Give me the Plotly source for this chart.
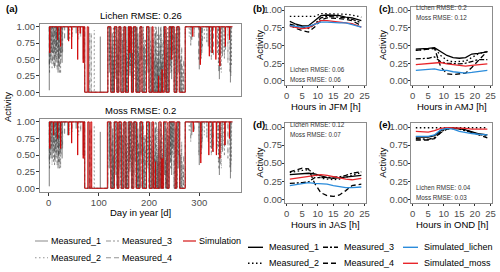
import plotly.graph_objects as go

W, H = 500, 272
FONT = "Liberation Sans, Arial, sans-serif"

# ---------------- panel (a): daily activity over the year ----------------
first_day, last_day = 1, 366

# periods in which the measured activity is high (shared by all sensors)
meas_on_start = [1, 118, 131, 140, 150, 159, 169, 182, 195, 229, 240, 256, 272]
meas_on_end = [72, 124, 136, 144, 153, 165, 174, 186, 200, 233, 250, 261, 366]

m1_day = [1.5, 5, 9, 13, 16, 19, 23, 27, 38, 55, 69, 80, 103, 121, 127, 129, 134, 138, 142, 147,
          152, 156, 162, 167, 172, 176, 178, 184, 190, 198, 204, 208, 212, 216, 219, 222, 225, 228,
          231, 235, 238, 242, 245, 248, 253, 258, 263, 285, 300, 305, 318, 325, 340, 346, 352, 362]
m1_val = [0.03, 0.45, 0.6, 0.4, 0.7, 0.3, 0.55, 0.45, 0.8, 0.9, 0.5, 1.0, 0.85, 0.3, 0.9, 0.5, 0.2,
          0.8, 0.3, 0.8, 0.4, 1.0, 0.25, 0.6, 0.4, 1.0, 0.9, 0.5, 0.7, 0.3, 1.0, 0.6, 0.9, 0.5, 1.0,
          0.7, 0.45, 1.0, 0.2, 0.9, 0.8, 0.4, 0.2, 0.6, 0.9, 0.3, 0.5, 0.8, 0.35, 0.6, 0.7, 0.6, 0.2,
          0.55, 0.65, 0.15]
m2_day = [3, 7, 11, 15, 18, 21, 25, 42, 60, 71, 91, 121, 126, 129, 133, 137, 143, 146, 151, 155,
          157, 162, 166, 168, 171, 177, 180, 188, 192, 197, 203, 206, 210, 214, 217, 221, 224, 227,
          232, 237, 241, 245, 249, 252, 257, 264, 268, 280, 302, 310, 322, 338, 344, 349, 364]
m2_val = [0.5, 0.35, 0.55, 0.45, 0.6, 0.35, 0.5, 0.8, 0.8, 0.6, 0.95, 0.4, 0.6, 1.0, 0.3, 0.9, 0.5,
          0.9, 0.3, 0.8, 0.7, 0.3, 0.9, 0.9, 0.2, 0.8, 0.5, 0.9, 0.6, 0.4, 0.8, 0.4, 1.0, 0.7, 0.9,
          0.4, 0.9, 0.6, 0.5, 1.0, 0.6, 0.3, 0.4, 0.7, 0.5, 0.6, 0.3, 0.85, 0.45, 0.8, 0.6, 0.4, 0.3,
          0.6, 0.4]
m3_day = [2, 6, 10, 14, 17, 20, 24, 28, 47, 70, 85, 122, 126, 130, 135, 139, 142, 148, 152, 155,
          161, 163, 167, 173, 176, 180, 185, 189, 193, 199, 202, 207, 211, 215, 218, 223, 226, 230,
          235, 239, 243, 247, 251, 254, 259, 262, 266, 283, 304, 315, 324, 336, 342, 350, 361]
m3_val = [0.3, 0.6, 0.4, 0.55, 0.35, 0.5, 0.3, 0.6, 0.85, 0.45, 0.9, 0.5, 0.7, 0.9, 0.4, 1.0, 0.6,
          1.0, 0.6, 0.6, 0.4, 0.4, 1.0, 0.5, 1.0, 0.6, 0.3, 1.0, 0.8, 0.5, 0.6, 1.0, 0.5, 1.0, 0.6,
          1.0, 0.8, 0.4, 0.6, 0.9, 0.5, 0.5, 0.9, 1.0, 0.5, 0.8, 0.4, 0.7, 0.5, 0.75, 0.5, 0.6, 0.35,
          0.5, 0.3]
m4_day = [1.5, 4, 8, 12, 16, 20, 22, 26, 32, 64, 82, 119, 123, 128, 132, 138, 141, 145, 149, 153,
          156, 161, 164, 168, 170, 175, 179, 183, 187, 191, 196, 201, 205, 209, 213, 217, 220, 224,
          227, 232, 234, 237, 243, 246, 251, 255, 260, 265, 269, 290, 299, 306, 328, 339, 343, 357,
          363]
m4_val = [0.4, 0.5, 0.45, 0.35, 0.5, 0.4, 0.3, 0.6, 0.8, 0.85, 0.9, 0.6, 0.3, 0.8, 0.5, 0.6, 0.4,
          0.9, 0.7, 0.2, 0.5, 0.5, 0.3, 0.7, 0.6, 0.9, 0.7, 0.4, 0.5, 0.8, 0.2, 0.9, 0.7, 0.8, 1.0,
          0.4, 0.9, 1.0, 0.5, 0.3, 0.4, 0.7, 0.3, 0.6, 0.8, 0.5, 0.4, 0.7, 0.5, 0.85, 0.5, 0.7, 0.55,
          0.3, 0.6, 0.45, 0.25]

lichen_on_start = [1, 77, 118, 131, 140, 150, 159, 169, 182, 195, 206, 231, 240, 255, 272]
lichen_on_end = [72, 79, 124, 136, 144, 153, 165, 174, 186, 200, 208, 234, 250, 260, 366]
lichen_dip_day = [2.5, 18, 24, 40, 46, 58, 63, 69, 162, 219, 226, 245, 287, 302, 320, 326, 333, 341, 352, 360]
lichen_dip_val = [0.6, 0.8, 0.7, 0.78, 0.66, 0.5, 0.9, 0.45, 0.6, 0.25, 0.35, 0.5, 0.85, 0.42, 0.55,
                  0.6, 0.5, 0.4, 0.7, 0.8]

moss_on_start = [1, 78, 84, 117, 131, 140, 150, 160, 170, 182, 195, 206, 220, 229, 240, 255, 272]
moss_on_end = [72, 81, 86, 124, 137, 145, 154, 166, 175, 187, 201, 209, 224, 236, 252, 261, 366]
moss_dip_day = [2.5, 10, 18, 24, 40, 46, 58, 69, 213, 226, 288, 303, 319, 327, 334, 341, 351, 360]
moss_dip_val = [0.6, 0.8, 0.75, 0.6, 0.8, 0.68, 0.5, 0.45, 0.4, 0.45, 0.85, 0.38, 0.5, 0.55, 0.5,
                0.45, 0.65, 0.75]

# ---------------- panels (b)-(e): mean diurnal cycles ----------------
hours = [1, 3, 5, 7, 9, 11, 13, 15, 17, 19, 21, 24]
seasons = ["JFM", "AMJ", "JAS", "OND"]
panel_tags = ["(b)", "(c)", "(d)", "(e)"]
lichen_rmse = ["0.06", "0.2", "0.12", "0.04"]
moss_rmse = ["0.06", "0.12", "0.07", "0.03"]

diurnal = {
    "JFM": {
        "Measured_1": [0.84, 0.80, 0.775, 0.78, 0.85, 0.92, 0.93, 0.93, 0.92, 0.90, 0.89, 0.85],
        "Measured_2": [0.91, 0.91, 0.90, 0.90, 0.91, 0.95, 0.95, 0.95, 0.95, 0.94, 0.93, 0.90],
        "Measured_3": [0.80, 0.78, 0.76, 0.74, 0.80, 0.89, 0.91, 0.91, 0.90, 0.89, 0.87, 0.82],
        "Measured_4": [0.79, 0.74, 0.71, 0.69, 0.76, 0.86, 0.89, 0.89, 0.88, 0.87, 0.85, 0.78],
        "Simulated_lichen": [0.78, 0.77, 0.76, 0.77, 0.80, 0.83, 0.83, 0.82, 0.82, 0.82, 0.80, 0.76],
        "Simulated_moss": [0.77, 0.75, 0.74, 0.75, 0.80, 0.85, 0.85, 0.84, 0.84, 0.83, 0.81, 0.76],
    },
    "AMJ": {
        "Measured_1": [0.45, 0.45, 0.46, 0.47, 0.41, 0.36, 0.33, 0.32, 0.33, 0.38, 0.39, 0.41],
        "Measured_2": [0.43, 0.44, 0.45, 0.46, 0.36, 0.29, 0.27, 0.27, 0.28, 0.33, 0.38, 0.42],
        "Measured_3": [0.31, 0.31, 0.32, 0.34, 0.27, 0.25, 0.24, 0.24, 0.25, 0.27, 0.30, 0.30],
        "Measured_4": [0.43, 0.44, 0.45, 0.46, 0.20, 0.10, 0.09, 0.10, 0.11, 0.19, 0.28, 0.42],
        "Simulated_lichen": [0.15, 0.16, 0.16, 0.17, 0.15, 0.15, 0.13, 0.12, 0.11, 0.12, 0.13, 0.15],
        "Simulated_moss": [0.23, 0.24, 0.25, 0.26, 0.26, 0.24, 0.23, 0.22, 0.21, 0.22, 0.23, 0.24],
    },
    "JAS": {
        "Measured_1": [0.34, 0.35, 0.35, 0.36, 0.35, 0.32, 0.30, 0.29, 0.30, 0.31, 0.32, 0.33],
        "Measured_2": [0.37, 0.39, 0.40, 0.41, 0.35, 0.29, 0.28, 0.27, 0.28, 0.30, 0.33, 0.37],
        "Measured_3": [0.22, 0.22, 0.23, 0.24, 0.30, 0.30, 0.30, 0.30, 0.31, 0.33, 0.36, 0.38],
        "Measured_4": [0.38, 0.41, 0.43, 0.42, 0.22, 0.09, 0.05, 0.04, 0.06, 0.12, 0.19, 0.21],
        "Simulated_lichen": [0.19, 0.20, 0.21, 0.23, 0.22, 0.22, 0.21, 0.19, 0.17, 0.16, 0.16, 0.17],
        "Simulated_moss": [0.28, 0.29, 0.30, 0.32, 0.33, 0.34, 0.33, 0.31, 0.30, 0.28, 0.27, 0.29],
    },
    "OND": {
        "Measured_1": [0.86, 0.86, 0.86, 0.88, 0.95, 0.99, 0.99, 0.98, 0.96, 0.93, 0.91, 0.89],
        "Measured_2": [0.99, 0.99, 0.99, 0.99, 0.99, 1.0, 1.0, 1.0, 1.0, 0.99, 0.99, 0.99],
        "Measured_3": [0.84, 0.83, 0.83, 0.85, 0.93, 0.98, 0.99, 0.97, 0.95, 0.92, 0.90, 0.87],
        "Measured_4": [0.82, 0.82, 0.82, 0.84, 0.92, 0.97, 0.98, 0.98, 0.96, 0.93, 0.89, 0.85],
        "Simulated_lichen": [0.87, 0.87, 0.87, 0.89, 0.96, 0.98, 0.97, 0.94, 0.92, 0.91, 0.90, 0.89],
        "Simulated_moss": [0.94, 0.93, 0.93, 0.95, 0.98, 0.99, 0.99, 0.98, 0.98, 0.97, 0.97, 0.97],
    },
}

# ---------------- styles ----------------
GRAY = "rgba(60,60,60,0.55)"
RED_A = "#D00000"
BLUE = "#2B8CDB"
RED = "#E8262B"
DASH = {"Measured_1": "solid", "Measured_2": "1.5px,2.5px",
        "Measured_3": "5px,2px,2px,2px", "Measured_4": "5px,3px"}
RIGHT_COLOR = {"Measured_1": "black", "Measured_2": "black", "Measured_3": "black",
               "Measured_4": "black", "Simulated_lichen": BLUE, "Simulated_moss": RED}
RIGHT_DASH = dict(DASH, Simulated_lichen="solid", Simulated_moss="solid")


def px(x):
    return x / W


def py(y):
    return 1 - y / H


def activity_path(on_start, on_end, spike_day, spike_val, half=0.4):
    def base(d):
        return 1.0 if any(s <= d <= e for s, e in zip(on_start, on_end)) else 0.0
    events = []
    for s, e in zip(on_start, on_end):
        if s > first_day:
            events.append((s, [(s, 0.0), (s, 1.0)]))
        if e < last_day:
            events.append((e, [(e, 1.0), (e, 0.0)]))
    for d, v in zip(spike_day, spike_val):
        b = base(d)
        events.append((d, [(d - half, b), (d, v), (d + half, b)]))
    events.sort(key=lambda t: t[0])
    xs, ys = [first_day], [base(first_day)]
    for _, pts in events:
        for x, y in pts:
            xs.append(x)
            ys.append(y)
    xs.append(last_day)
    ys.append(base(last_day))
    return xs, ys


fig = go.Figure()

measured_a = {
    "Measured_1": (m1_day, m1_val),
    "Measured_2": (m2_day, m2_val),
    "Measured_3": (m3_day, m3_val),
    "Measured_4": (m4_day, m4_val),
}
for ax in ["", "2"]:
    for name, (dd, vv) in measured_a.items():
        xs, ys = activity_path(meas_on_start, meas_on_end, dd, vv)
        fig.add_trace(go.Scatter(x=xs, y=ys, mode="lines", name=name, showlegend=False,
                                 line=dict(color=GRAY, width=0.7, dash=DASH[name]),
                                 xaxis="x" + ax, yaxis="y" + ax))
xs, ys = activity_path(lichen_on_start, lichen_on_end, lichen_dip_day, lichen_dip_val)
fig.add_trace(go.Scatter(x=xs, y=ys, mode="lines", name="Simulation", showlegend=False,
                         line=dict(color=RED_A, width=0.9), xaxis="x", yaxis="y"))
xs, ys = activity_path(moss_on_start, moss_on_end, moss_dip_day, moss_dip_val)
fig.add_trace(go.Scatter(x=xs, y=ys, mode="lines", name="Simulation", showlegend=False,
                         line=dict(color=RED_A, width=0.9), xaxis="x2", yaxis="y2"))

# right panels
for i, season in enumerate(seasons):
    k = str(i + 3)
    for name in ["Measured_1", "Measured_2", "Measured_3", "Measured_4",
                 "Simulated_moss", "Simulated_lichen"]:
        fig.add_trace(go.Scatter(x=hours, y=diurnal[season][name], mode="lines", name=name,
                                 showlegend=False,
                                 line=dict(color=RIGHT_COLOR[name], width=1.3, dash=RIGHT_DASH[name]),
                                 xaxis="x" + k, yaxis="y" + k))

tickfont = dict(family=FONT, size=9.5, color="#4D4D4D")
frame = dict(showline=True, mirror=True, linecolor="#8C8C8C", linewidth=1,
             showgrid=False, zeroline=False, ticks="outside", ticklen=3,
             tickcolor="#333333", tickwidth=1, tickfont=tickfont, automargin=False)
yticks = dict(tickvals=[0, 0.25, 0.5, 0.75, 1], ticktext=["0.00", "0.25", "0.50", "0.75", "1.00"])

left_x = [px(40), px(241)]
layout = dict(
    width=W, height=H, autosize=False, margin=dict(l=0, r=0, t=0, b=0),
    paper_bgcolor="white", plot_bgcolor="white", showlegend=False,
    font=dict(family=FONT, size=9.5, color="black"),
)
layout["xaxis"] = dict(frame, domain=left_x, range=[-17, 383], anchor="y",
                       showticklabels=False, ticks="")
layout["yaxis"] = dict(frame, **yticks, domain=[py(95.5), py(23.5)], range=[-0.05, 1.05], anchor="x",
                       ticklabelstandoff=-1)
layout["xaxis2"] = dict(frame, domain=left_x, range=[-17, 383], anchor="y2",
                        tickvals=[0, 100, 200, 300], ticklabelstandoff=-1)
layout["yaxis2"] = dict(frame, **yticks, domain=[py(191.6), py(118.6)], range=[-0.05, 1.05], anchor="x2",
                        ticklabelstandoff=-1)

right_cols = [(285, 366), (411, 492)]
right_rows = [(6.5, 84.5), (123.4, 202.9)]
for i in range(4):
    k = str(i + 3)
    cx = right_cols[i % 2]
    ry = right_rows[i // 2]
    layout["xaxis" + k] = dict(frame, domain=[px(cx[0]), px(cx[1])], range=[-0.55, 25.5],
                               anchor="y" + k, tickvals=[0, 5, 10, 15, 20, 25], ticklen=2)
    layout["yaxis" + k] = dict(frame, **yticks, domain=[py(ry[1]), py(ry[0])], range=[-0.05, 1.05],
                               anchor="x" + k, ticklen=2, ticklabelstandoff=-2)
fig.update_layout(**layout)

ann = []


def text(x, y, s, size=9.5, color="black", xanchor="center", angle=0, bold=False):
    ann.append(dict(x=px(x), y=py(y), xref="paper", yref="paper", text=("<b>%s</b>" % s) if bold else s,
                    showarrow=False, xanchor=xanchor, yanchor="middle", textangle=angle,
                    borderpad=0, font=dict(family=FONT, size=size, color=color)))


text(5, 8, "(a)", xanchor="left", bold=True)
text(140.5, 15, "Lichen RMSE: 0.26")
text(140.5, 110, "Moss RMSE: 0.2")
text(8, 107, "Activity", angle=-90)
text(140.5, 212.5, "Day in year [d]")

tag_off = [33, 33]
act_off = [25.5, 28.5]
for i, season in enumerate(seasons):
    c = i % 2
    cx = right_cols[c]
    ry = right_rows[i // 2]
    text(cx[0] - tag_off[c], ry[0] + 1.5, panel_tags[i], xanchor="left", bold=True)
    text(cx[0] - act_off[c], (ry[0] + ry[1]) / 2, "Activity", angle=-90)
    text((cx[0] + cx[1]) / 2, ry[1] + 22, "Hours in %s [h]" % season)
    if i in (0, 3):
        ly = ry[1] - 15
    else:
        ly = ry[0] + 1
    text(cx[0] + 4, ly, "Lichen RMSE: " + lichen_rmse[i], size=6.3, color="#333333", xanchor="left")
    text(cx[0] + 4, ly + 10, "Moss RMSE: " + moss_rmse[i], size=6.3, color="#333333", xanchor="left")

# legends
shapes = []
left_legend = [("Measured_1", 35, 241, GRAY, DASH["Measured_1"]),
               ("Measured_3", 106, 241, GRAY, DASH["Measured_3"]),
               ("Simulation", 183, 241, RED_A, "solid"),
               ("Measured_2", 35, 257.7, GRAY, DASH["Measured_2"]),
               ("Measured_4", 106, 257.7, GRAY, DASH["Measured_4"])]
for name, x0, y0, col, dash in left_legend:
    shapes.append(dict(type="line", xref="paper", yref="paper", x0=px(x0), x1=px(x0 + 13),
                       y0=py(y0), y1=py(y0), line=dict(color=col, width=1.1, dash=dash)))
    text(x0 + 15, y0, name, size=9, xanchor="left")

right_legend = [("Measured_1", 248, 247.3), ("Measured_3", 323, 247.3), ("Simulated_lichen", 403, 247.3),
                ("Measured_2", 248, 263.3), ("Measured_4", 323, 263.3), ("Simulated_moss", 403, 263.3)]
for name, x0, y0 in right_legend:
    shapes.append(dict(type="line", xref="paper", yref="paper", x0=px(x0), x1=px(x0 + 15),
                       y0=py(y0), y1=py(y0),
                       line=dict(color=RIGHT_COLOR[name], width=1.4, dash=RIGHT_DASH[name])))
    text(x0 + 20, y0, name, size=9, xanchor="left")

fig.update_layout(annotations=ann, shapes=shapes)
fig.write_html("out.html", config={"displayModeBar": False},
               post_script="document.body.style.margin='0';document.body.style.overflow='hidden';")
